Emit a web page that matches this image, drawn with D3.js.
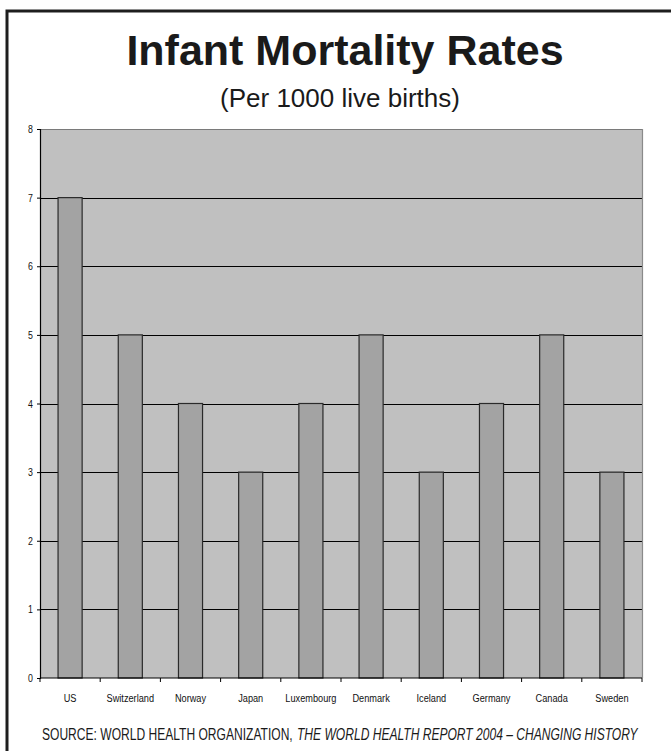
<!DOCTYPE html>
<html>
<head>
<meta charset="utf-8">
<script src="https://cdn.jsdelivr.net/npm/d3@7"></script>
<style>
  html, body { margin: 0; padding: 0; background: #fff; }
  svg { display: block; }
</style>
</head>
<body>
<svg id="chart" width="671" height="751"></svg>
<script>
// Infant mortality per 1000 live births, by country
const countries = ["US", "Switzerland", "Norway", "Japan", "Luxembourg", "Denmark", "Iceland", "Germany", "Canada", "Sweden"];
const rates = [7, 5, 4, 3, 4, 5, 3, 4, 5, 3];
const yTicks = [0, 1, 2, 3, 4, 5, 6, 7, 8];

const titleText = "Infant Mortality Rates";
const subtitleText = "(Per 1000 live births)";
const sourcePlain = "SOURCE: WORLD HEALTH ORGANIZATION,";
const sourceItalic = "THE WORLD HEALTH REPORT 2004 \u2013 CHANGING HISTORY";

const W = 671, H = 751;
const plot = { left: 40, right: 642, top: 129, bottom: 678 };
const sans = "'Liberation Sans', Arial, Helvetica, sans-serif";
const condense = 0.8; // horizontal squeeze for the narrow label face

const svg = d3.select("#chart");

// frame: thick rule along the top and left edges
svg.append("path")
  .attr("d", `M7,${H} V11 H${W}`)
  .attr("fill", "none")
  .attr("stroke", "#1e1e1e")
  .attr("stroke-width", 3);

// titles
svg.append("text")
  .attr("x", 345).attr("y", 65)
  .attr("text-anchor", "middle")
  .attr("font-family", sans)
  .attr("font-weight", "bold")
  .attr("font-size", 43)
  .attr("fill", "#1a1a1a")
  .text(titleText);

svg.append("text")
  .attr("x", 340).attr("y", 107)
  .attr("text-anchor", "middle")
  .attr("font-family", sans)
  .attr("font-size", 26)
  .attr("fill", "#1a1a1a")
  .text(subtitleText);

// scales
const x = d3.scaleBand().domain(countries).range([plot.left, plot.right]).padding(0);
const y = d3.scaleLinear().domain([0, 8]).range([plot.bottom, plot.top]);
const barW = x.bandwidth() * 0.4;

// plot background
svg.append("rect")
  .attr("x", plot.left).attr("y", plot.top)
  .attr("width", plot.right - plot.left).attr("height", plot.bottom - plot.top)
  .attr("fill", "#c0c0c0");

// gridlines
svg.append("g")
  .selectAll("line")
  .data(yTicks.filter(t => t > 0))
  .join("line")
  .attr("x1", plot.left).attr("x2", plot.right)
  .attr("y1", d => Math.round(y(d)) + 0.5).attr("y2", d => Math.round(y(d)) + 0.5)
  .attr("stroke", d => d === 8 ? "#7a7a7a" : "#000")
  .attr("stroke-width", 1.2);

// right edge of plot area
svg.append("line")
  .attr("x1", plot.right + 0.5).attr("x2", plot.right + 0.5)
  .attr("y1", plot.top).attr("y2", plot.bottom)
  .attr("stroke", "#8a8a8a").attr("stroke-width", 1.2);

// bars
svg.append("g")
  .selectAll("rect")
  .data(countries.map((c, i) => ({ c, v: rates[i] })))
  .join("rect")
  .attr("x", d => x(d.c) + (x.bandwidth() - barW) / 2)
  .attr("y", d => y(d.v))
  .attr("width", barW)
  .attr("height", d => y(0) - y(d.v))
  .attr("fill", "#a3a3a3")
  .attr("stroke", "#2a2a2a")
  .attr("stroke-width", 1.2);

// y axis
const yAxis = d3.axisLeft(y).tickValues(yTicks).tickSize(3).tickPadding(4).tickFormat(d3.format("d"));
const gy = svg.append("g").attr("transform", `translate(${plot.left},0)`).call(yAxis);
gy.select(".domain").attr("stroke", "#000").attr("stroke-width", 1.2);
gy.selectAll(".tick line").attr("stroke", "#000");
gy.selectAll("text")
  .attr("font-family", sans).attr("font-size", 11).attr("fill", "#111")
  .attr("transform", `scale(${condense},1)`)
  .attr("x", -7 / condense);

// x axis: ticks at category boundaries, labels centred in each band
const gx = svg.append("g").attr("transform", `translate(0,${plot.bottom})`);
gx.append("line")
  .attr("x1", plot.left).attr("x2", plot.right)
  .attr("stroke", "#000").attr("stroke-width", 1.2);
const boundaries = countries.map(c => x(c)).concat([plot.right]);
gx.selectAll("line.tk")
  .data(boundaries)
  .join("line")
  .attr("class", "tk")
  .attr("x1", d => d).attr("x2", d => d)
  .attr("y1", 0).attr("y2", 4)
  .attr("stroke", "#000");
gx.selectAll("text")
  .data(countries)
  .join("text")
  .attr("transform", d => `translate(${x(d) + x.bandwidth() / 2},24) scale(${condense},1)`)
  .attr("text-anchor", "middle")
  .attr("font-family", sans)
  .attr("font-size", 11.5)
  .attr("fill", "#111")
  .text(d => d);

// source line: plain organisation name, italic report title,
// each squeezed horizontally to its span
function squeezedText(str, left, width, italic) {
  const t = svg.append("text")
    .attr("font-family", sans)
    .attr("font-size", 16.5)
    .attr("fill", "#1a1a1a")
    .attr("font-style", italic ? "italic" : "normal")
    .text(str);
  const natural = t.node().getComputedTextLength();
  t.attr("transform", `translate(${left},740) scale(${width / natural},1)`);
}
squeezedText(sourcePlain, 42, 251, false);
squeezedText(sourceItalic, 297, 341, true);
</script>
</body>
</html>
